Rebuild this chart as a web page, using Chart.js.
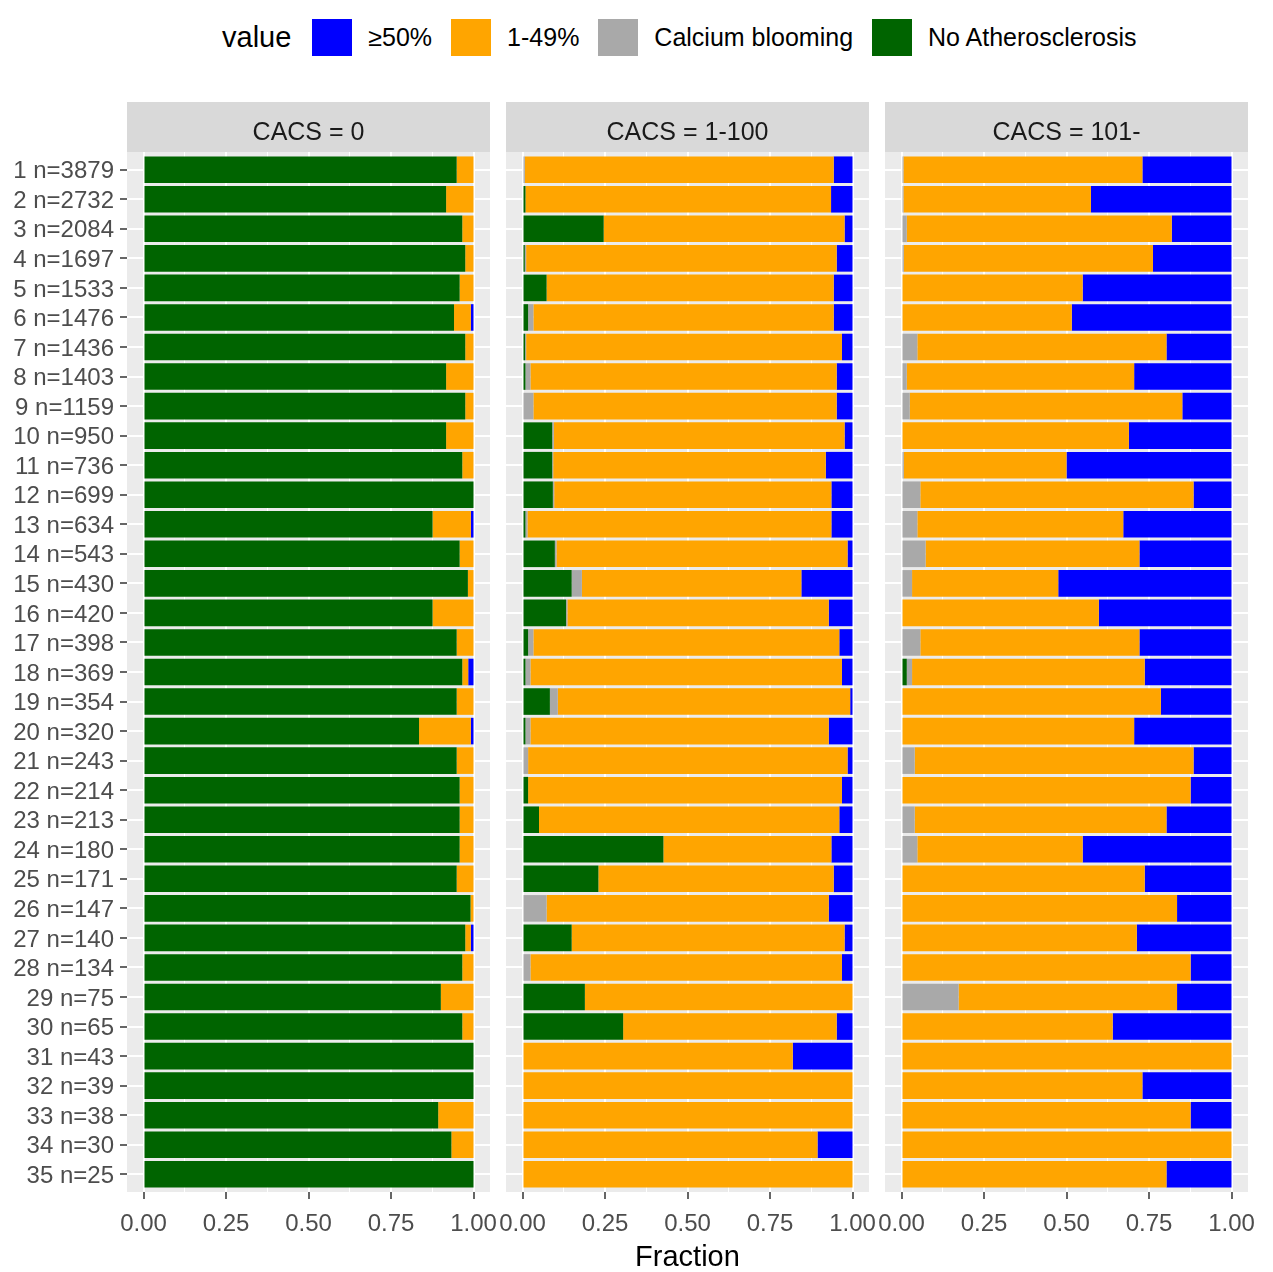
<!DOCTYPE html>
<html>
<head>
<meta charset="utf-8">
<title>Stenosis grade by CACS group</title>
<script src="https://cdn.jsdelivr.net/npm/chart.js@4.4.1/dist/chart.umd.min.js"></script>
<style>
  html, body { margin: 0; padding: 0; background: #ffffff; }
  body { width: 1273px; height: 1272px; position: relative; overflow: hidden; font-family: "Liberation Sans", Arial, sans-serif; }
  .panel { position: absolute; top: 100px; height: 1175px; }
  #p0 { left: 0px; width: 504px; }
  #p1 { left: 492px; width: 391px; }
  #p2 { left: 871px; width: 402px; }
  #legend { position: absolute; left: 222px; top: 18px; height: 38px; display: flex; align-items: center; white-space: nowrap; color: #000000; }
  #legend .title { font-size: 29px; margin-right: 21px; }
  #legend .key { width: 40px; height: 37px; margin-right: 16px; }
  #legend .lab { font-size: 25px; margin-right: 19px; }
</style>
</head>
<body>
<div id="legend"></div>
<div class="panel" id="p0"><canvas id="c0"></canvas></div>
<div class="panel" id="p1"><canvas id="c1"></canvas></div>
<div class="panel" id="p2"><canvas id="c2"></canvas></div>
<script>
// Row labels (group and size), top to bottom
const categories = [
  '1 n=3879', '2 n=2732', '3 n=2084', '4 n=1697', '5 n=1533', '6 n=1476', '7 n=1436',
  '8 n=1403', '9 n=1159', '10 n=950', '11 n=736', '12 n=699', '13 n=634', '14 n=543',
  '15 n=430', '16 n=420', '17 n=398', '18 n=369', '19 n=354', '20 n=320', '21 n=243',
  '22 n=214', '23 n=213', '24 n=180', '25 n=171', '26 n=147', '27 n=140', '28 n=134',
  '29 n=75', '30 n=65', '31 n=43', '32 n=39', '33 n=38', '34 n=30', '35 n=25'
];
const panelTitles = ['CACS = 0', 'CACS = 1-100', 'CACS = 101-'];
const seriesNames = ['No Atherosclerosis', 'Calcium blooming', '1-49%', '≥50%'];
const xMajorTicks = [0, 0.25, 0.5, 0.75, 1];
const xMinorTicks = [0.125, 0.375, 0.625, 0.875];

// CACS = 0
const noAth0 = [0.949, 0.917, 0.966, 0.975, 0.958, 0.941, 0.975, 0.917, 0.975, 0.917, 0.966, 1.000, 0.876, 0.958, 0.983, 0.876, 0.949, 0.966, 0.949, 0.835, 0.949, 0.958, 0.958, 0.958, 0.949, 0.991, 0.975, 0.966, 0.901, 0.966, 1.000, 1.000, 0.893, 0.933, 1.000];
const calc0  = [0, 0, 0, 0, 0, 0, 0, 0, 0, 0, 0, 0, 0, 0, 0, 0, 0, 0, 0, 0, 0, 0, 0, 0, 0, 0, 0, 0, 0, 0, 0, 0, 0, 0, 0];
const mild0  = [0.051, 0.083, 0.034, 0.025, 0.042, 0.051, 0.025, 0.083, 0.025, 0.083, 0.034, 0, 0.116, 0.042, 0.017, 0.124, 0.051, 0.018, 0.051, 0.157, 0.051, 0.042, 0.042, 0.042, 0.051, 0.009, 0.017, 0.034, 0.099, 0.034, 0, 0, 0.107, 0.067, 0];
const sev0   = [0, 0, 0, 0, 0, 0.008, 0, 0, 0, 0, 0, 0, 0.008, 0, 0, 0, 0, 0.016, 0, 0.008, 0, 0, 0, 0, 0, 0, 0.008, 0, 0, 0, 0, 0, 0, 0, 0];

// CACS = 1-100
const noAth1 = [0, 0.009, 0.246, 0.007, 0.073, 0.017, 0.008, 0.009, 0, 0.090, 0.090, 0.092, 0.009, 0.098, 0.149, 0.132, 0.017, 0.009, 0.083, 0.009, 0, 0.017, 0.050, 0.427, 0.230, 0, 0.149, 0, 0.189, 0.305, 0, 0, 0, 0, 0];
const calc1  = [0.007, 0, 0, 0.004, 0, 0.016, 0.003, 0.015, 0.033, 0.005, 0.003, 0.004, 0.006, 0.005, 0.031, 0.004, 0.016, 0.015, 0.024, 0.015, 0.017, 0, 0, 0, 0, 0.073, 0, 0.024, 0, 0, 0, 0, 0, 0, 0];
const mild1  = [0.936, 0.926, 0.730, 0.941, 0.870, 0.910, 0.957, 0.928, 0.919, 0.881, 0.826, 0.840, 0.921, 0.882, 0.665, 0.792, 0.927, 0.944, 0.886, 0.904, 0.968, 0.951, 0.910, 0.509, 0.713, 0.855, 0.827, 0.944, 0.811, 0.647, 0.819, 1.000, 1.000, 0.894, 1.000];
const sev1   = [0.057, 0.065, 0.024, 0.048, 0.057, 0.057, 0.032, 0.048, 0.048, 0.024, 0.081, 0.064, 0.064, 0.015, 0.155, 0.072, 0.040, 0.032, 0.007, 0.072, 0.015, 0.032, 0.040, 0.064, 0.057, 0.072, 0.024, 0.032, 0, 0.048, 0.181, 0, 0, 0.106, 0];

// CACS = 101-
const noAth2 = [0, 0, 0, 0, 0, 0, 0, 0, 0, 0, 0, 0, 0, 0, 0, 0, 0, 0.016, 0, 0, 0, 0, 0, 0, 0, 0, 0, 0, 0, 0, 0, 0, 0, 0, 0];
const calc2  = [0.006, 0.006, 0.016, 0.007, 0, 0, 0.048, 0.016, 0.025, 0, 0.007, 0.057, 0.048, 0.073, 0.032, 0, 0.057, 0.016, 0, 0, 0.040, 0, 0.040, 0.048, 0, 0, 0, 0, 0.173, 0, 0, 0, 0, 0, 0];
const mild2  = [0.724, 0.568, 0.803, 0.755, 0.549, 0.516, 0.755, 0.689, 0.826, 0.689, 0.493, 0.828, 0.624, 0.648, 0.443, 0.598, 0.664, 0.705, 0.786, 0.705, 0.845, 0.876, 0.763, 0.501, 0.737, 0.835, 0.713, 0.876, 0.662, 0.640, 1.000, 0.730, 0.876, 1.000, 0.803];
const sev2   = [0.270, 0.426, 0.181, 0.238, 0.451, 0.484, 0.197, 0.295, 0.149, 0.311, 0.500, 0.115, 0.328, 0.279, 0.525, 0.402, 0.279, 0.263, 0.214, 0.295, 0.115, 0.124, 0.197, 0.451, 0.263, 0.165, 0.287, 0.124, 0.165, 0.360, 0, 0.270, 0.124, 0, 0.197];

const panelSeries = [
  [noAth0, calc0, mild0, sev0],
  [noAth1, calc1, mild1, sev1],
  [noAth2, calc2, mild2, sev2]
];

// Fill colours, in the same order as seriesNames
const seriesColors = ['#006400', '#A9A9A9', '#FFA500', '#0000FF'];

const FONT = 'Liberation Sans';
const AXIS_TEXT = '#4D4D4D';

// Legend: highest grade first
(function buildLegend() {
  const box = document.getElementById('legend');
  const t = document.createElement('span');
  t.className = 'title';
  t.textContent = 'value';
  box.appendChild(t);
  for (let s = seriesNames.length - 1; s >= 0; s--) {
    const k = document.createElement('span');
    k.className = 'key';
    k.style.background = seriesColors[s];
    box.appendChild(k);
    const l = document.createElement('span');
    l.className = 'lab';
    l.textContent = seriesNames[s];
    box.appendChild(l);
  }
})();

// Grey panel background plus the facet strip with its title
const panelDecor = {
  id: 'panelDecor',
  beforeDraw(chart, args, opts) {
    const { ctx, chartArea: a } = chart;
    ctx.save();
    ctx.fillStyle = '#EBEBEB';
    ctx.fillRect(a.left, a.top, a.right - a.left, a.bottom - a.top);
    const top = a.top - opts.stripHeight;
    ctx.fillStyle = '#D9D9D9';
    ctx.fillRect(a.left, top, a.right - a.left, opts.stripHeight);
    ctx.fillStyle = '#1A1A1A';
    ctx.font = '25px "' + FONT + '"';
    ctx.textAlign = 'center';
    ctx.textBaseline = 'middle';
    ctx.fillText(opts.title, (a.left + a.right) / 2, top + opts.stripHeight / 2 + 6);
    ctx.restore();
  }
};

const isMajor = v => xMajorTicks.some(m => Math.abs(m - v) < 1e-9);

function makePanel(p, cfg) {
  const series = panelSeries[p];
  const datasets = seriesNames.map((name, s) => ({
    label: name,
    data: series[s].map((v, i) => ({ x: v, y: i })),
    backgroundColor: seriesColors[s],
    borderWidth: 0,
    barPercentage: 0.9,
    categoryPercentage: 1.0
  }));

  return new Chart(document.getElementById('c' + p), {
    type: 'bar',
    data: { datasets },
    options: {
      indexAxis: 'y',
      responsive: true,
      maintainAspectRatio: false,
      animation: false,
      events: [],
      layout: { autoPadding: false, padding: cfg.padding },
      plugins: {
        legend: { display: false },
        tooltip: { enabled: false },
        panelDecor: { title: panelTitles[p], stripHeight: 50 }
      },
      scales: {
        x: {
          type: 'linear',
          min: -0.05,
          max: 1.05,
          stacked: true,
          afterBuildTicks: sc => {
            sc.ticks = xMajorTicks.concat(xMinorTicks).sort((a, b) => a - b).map(v => ({ value: v }));
          },
          afterFit: sc => { sc.height = 83; },
          border: { display: false },
          grid: {
            color: '#FFFFFF',
            lineWidth: c => (c.tick && isMajor(c.tick.value)) ? 2 : 1,
            drawTicks: true,
            tickLength: 7,
            tickWidth: 1.5,
            tickColor: c => (c.tick && isMajor(c.tick.value)) ? '#333333' : 'rgba(0,0,0,0)'
          },
          ticks: {
            autoSkip: false,
            maxRotation: 0,
            padding: 2,
            color: AXIS_TEXT,
            font: { family: FONT, size: 24, lineHeight: 1.95 },
            callback: v => isMajor(v) ? v.toFixed(2) : ''
          },
          title: {
            display: cfg.showTitle,
            text: 'Fraction',
            color: '#000000',
            font: { family: FONT, size: 29 },
            padding: { top: 0, bottom: 0 }
          }
        },
        y: {
          type: 'linear',
          min: -0.6,
          max: 34.6,
          reverse: true,
          stacked: true,
          offset: false,
          afterBuildTicks: sc => {
            sc.ticks = categories.map((_, i) => ({ value: i }));
          },
          afterFit: sc => { sc.width = cfg.yWidth; },
          border: { display: false },
          grid: {
            offset: false,
            color: '#FFFFFF',
            lineWidth: 2,
            drawTicks: cfg.showLabels,
            tickLength: 7,
            tickWidth: 1.5,
            tickColor: '#333333'
          },
          ticks: {
            display: cfg.showLabels,
            autoSkip: false,
            padding: 6,
            labelOffset: 2,
            color: AXIS_TEXT,
            font: { family: FONT, size: 24 },
            callback: v => categories[v]
          }
        }
      }
    },
    plugins: [panelDecor]
  });
}

makePanel(0, { yWidth: 127, showLabels: true, showTitle: false, padding: { left: 0, right: 14, top: 52, bottom: 0 } });
makePanel(1, { yWidth: 0, showLabels: false, showTitle: true, padding: { left: 14, right: 14, top: 52, bottom: 0 } });
makePanel(2, { yWidth: 0, showLabels: false, showTitle: false, padding: { left: 14, right: 25, top: 52, bottom: 0 } });
</script>
</body>
</html>
